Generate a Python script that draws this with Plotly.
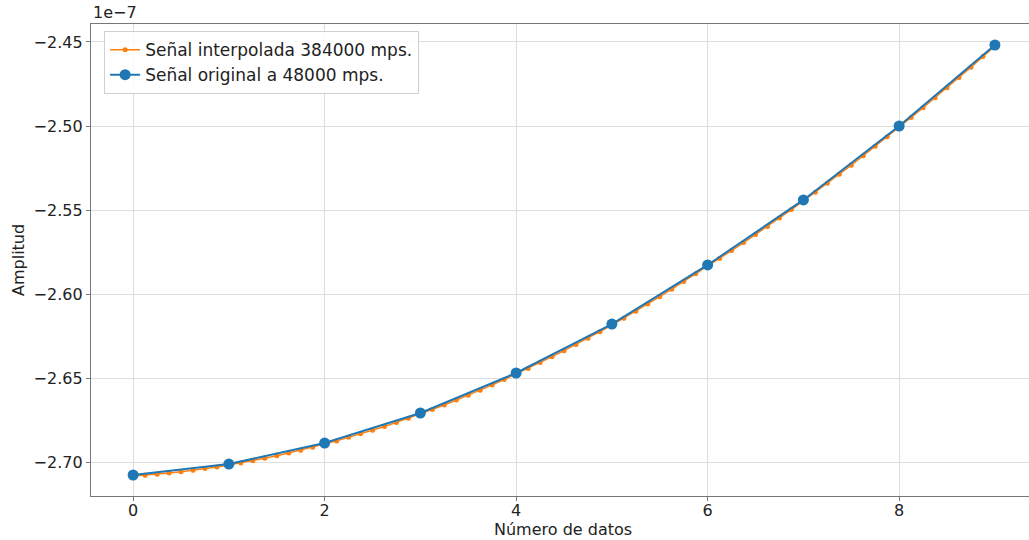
import plotly.graph_objects as go

# Values in units of 1e-7
orig_x = [0, 1, 2, 3, 4, 5, 6, 7, 8, 9]
orig_y = [-2.7077, -2.7012, -2.6887, -2.6708, -2.6470, -2.6179, -2.5827, -2.5440, -2.5000, -2.4518]

interp_x = [i / 8 for i in range(73)]
interp_y = [
    -2.7083, -2.7078, -2.7072, -2.7065, -2.7057, -2.7049, -2.7039, -2.7029,
    -2.7018, -2.7005, -2.6992, -2.6978, -2.6962, -2.6946, -2.6929, -2.6912,
    -2.6893, -2.6874, -2.6853, -2.6832, -2.6810, -2.6788, -2.6764, -2.6739,
    -2.6714, -2.6687, -2.6660, -2.6631, -2.6602, -2.6572, -2.6541, -2.6509,
    -2.6476, -2.6443, -2.6408, -2.6373, -2.6337, -2.6301, -2.6263, -2.6224,
    -2.6185, -2.6144, -2.6102, -2.6059, -2.6016, -2.5971, -2.5926, -2.5880,
    -2.5833, -2.5788, -2.5741, -2.5694, -2.5646, -2.5598, -2.5548, -2.5497,
    -2.5446, -2.5394, -2.5341, -2.5287, -2.5233, -2.5177, -2.5121, -2.5064,
    -2.5006, -2.4949, -2.4891, -2.4832, -2.4772, -2.4711, -2.4650, -2.4587,
    -2.4524,
]

x_ticks = [0, 2, 4, 6, 8]
y_ticks = [-2.70, -2.65, -2.60, -2.55, -2.50, -2.45]
y_tick_text = ["\u22122.70", "\u22122.65", "\u22122.60", "\u22122.55", "\u22122.50", "\u22122.45"]

FONT = "DejaVu Sans"
FS = 16

fig = go.Figure()
fig.add_trace(go.Scatter(
    x=interp_x, y=interp_y, mode="lines+markers",
    name="Señal interpolada 384000 mps.",
    line=dict(color="#ff7f0e", width=1.5),
    marker=dict(color="#ff7f0e", size=5),
))
fig.add_trace(go.Scatter(
    x=orig_x, y=orig_y, mode="lines+markers",
    name="Señal original a 48000 mps.",
    line=dict(color="#1f77b4", width=2),
    marker=dict(color="#1f77b4", size=11),
))

axis_common = dict(
    showline=True, linecolor="#777777", linewidth=1.3, mirror=True,
    showgrid=True, gridcolor="#dddddd", gridwidth=1,
    ticks="outside", ticklen=4, tickcolor="#777777",
    tickfont=dict(family=FONT, size=FS, color="#222222"),
    zeroline=False,
)

fig.update_layout(
    width=1029, height=540,
    margin=dict(l=91, r=0, t=24, b=44),
    plot_bgcolor="white", paper_bgcolor="white",
    showlegend=True,
    legend=dict(
        x=0.014, y=0.985, xanchor="left", yanchor="top",
        bgcolor="rgba(255,255,255,0.85)", bordercolor="#d0d0d0", borderwidth=1,
        font=dict(family=FONT, size=17, color="#222222"),
        tracegroupgap=0,
    ),
    xaxis=dict(range=[-0.44, 9.356], tickvals=x_ticks, ticklabelstandoff=-4, **axis_common),
    yaxis=dict(range=[-2.7202, -2.4393], tickvals=y_ticks, ticktext=y_tick_text, **axis_common),
    annotations=[
        dict(text="1e\u22127", xref="paper", yref="paper", x=0.0, y=1.0,
             xanchor="left", yanchor="bottom", showarrow=False, yshift=0,
             font=dict(family=FONT, size=FS, color="#222222")),
        dict(text="Número de datos", xref="paper", yref="paper", x=0.503, y=0,
             xanchor="center", yanchor="top", showarrow=False, yshift=-22,
             font=dict(family=FONT, size=FS, color="#222222")),
        dict(text="Amplitud", xref="paper", yref="paper", x=0, y=0.5,
             xanchor="center", yanchor="middle", showarrow=False, xshift=-73,
             textangle=-90,
             font=dict(family=FONT, size=FS, color="#222222")),
    ],
)

fig.write_html("out.html")
